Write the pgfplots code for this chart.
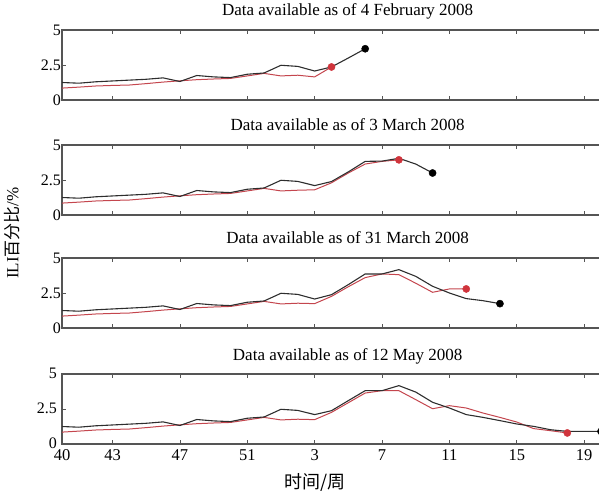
\documentclass[border=0pt]{standalone}
\usepackage{pgfplots}
\pgfplotsset{compat=1.18}
\usepackage{fontspec}
\setmainfont{Liberation Serif}
\newfontfamily\cjk{Noto Sans CJK SC}
\definecolor{blk}{HTML}{2E2E2E}
\definecolor{rd}{HTML}{C4464E}
\definecolor{rdot}{HTML}{D0343C}
\definecolor{framec}{HTML}{555555}

\pgfplotsset{
  panel/.style={
    scale only axis, width=539pt, height=70pt,
    xmin=0, xmax=32, ymin=0, ymax=5,
    xtick={0,3,7,11,15,19,23,27,31},
    ytick={0,2.5,5},
    xticklabels={},
    axis line style={framec, line width=1.3pt},
    tick style={framec, line width=0.8pt},
    major tick length=4pt,
    tick align=inside,
    xtick pos=both, ytick pos=left,
    /pgf/number format/assume math mode=true,
    yticklabel style={font=\fontsize{16}{16}\selectfont, inner sep=0pt, xshift=-1pt},
    xticklabel style={font=\fontsize{16.5}{16.5}\selectfont, inner sep=0pt, yshift=-5pt},
    title style={font=\fontsize{17}{17}\selectfont, at={(0.53,1)}, anchor=base, yshift=8pt, inner sep=0pt},
    anchor=south west,
  },
  bl/.style={blk, line width=1.1pt, mark=none},
  rl/.style={rd, line width=1.0pt, mark=none},
  rdotst/.style={only marks, mark=*, mark size=3.6pt, rdot, mark options={draw=rdot, fill=rdot}},
  bdotst/.style={only marks, mark=*, mark size=3.6pt, black, mark options={draw=black, fill=black}},
}

\begin{document}
\begin{tikzpicture}[x=1pt,y=1pt]
% Panel 1
\begin{axis}[panel, at={(62pt,390pt)}, title={Data available as of 4 February 2008}]
\addplot[rl] coordinates {(0,0.85)(1,0.92)(2,1.0)(3,1.04)(4,1.07)(5,1.17)(6,1.28)(7,1.37)(8,1.45)(9,1.5)(10,1.54)(11,1.72)(12,1.9)(13,1.72)(14,1.77)(15,1.65)(16,2.36)};
\addplot[bl] coordinates {(0,1.25)(1,1.2)(2,1.3)(3,1.36)(4,1.42)(5,1.48)(6,1.58)(7,1.32)(8,1.75)(9,1.65)(10,1.6)(11,1.84)(12,1.93)(13,2.48)(14,2.4)(15,2.07)(16,2.36)(17,3.0)(18,3.66)};
\addplot[rdotst] coordinates {(16,2.36)};
\addplot[bdotst] coordinates {(18,3.66)};
\end{axis}
% Panel 2
\begin{axis}[panel, at={(62pt,275pt)}, title={Data available as of 3 March 2008}]
\addplot[rl] coordinates {(0,0.85)(1,0.92)(2,1.0)(3,1.04)(4,1.07)(5,1.17)(6,1.28)(7,1.37)(8,1.45)(9,1.5)(10,1.54)(11,1.72)(12,1.9)(13,1.72)(14,1.77)(15,1.8)(16,2.3)(17,3.0)(18,3.64)(19,3.83)(20,3.94)};
\addplot[bl] coordinates {(0,1.25)(1,1.2)(2,1.3)(3,1.36)(4,1.42)(5,1.48)(6,1.58)(7,1.32)(8,1.75)(9,1.65)(10,1.6)(11,1.84)(12,1.93)(13,2.48)(14,2.4)(15,2.1)(16,2.39)(17,3.08)(18,3.83)(19,3.85)(20,4.05)(21,3.64)(22,3.0)};
\addplot[rdotst] coordinates {(20,3.94)};
\addplot[bdotst] coordinates {(22,3.0)};
\end{axis}
% Panel 3
\begin{axis}[panel, at={(62pt,162pt)}, title={Data available as of 31 March 2008}]
\addplot[rl] coordinates {(0,0.85)(1,0.92)(2,1.0)(3,1.04)(4,1.07)(5,1.17)(6,1.28)(7,1.37)(8,1.45)(9,1.5)(10,1.54)(11,1.72)(12,1.9)(13,1.72)(14,1.77)(15,1.74)(16,2.26)(17,2.95)(18,3.6)(19,3.86)(20,3.81)(21,3.2)(22,2.55)(23,2.79)(24,2.79)};
\addplot[bl] coordinates {(0,1.25)(1,1.2)(2,1.3)(3,1.36)(4,1.42)(5,1.48)(6,1.58)(7,1.32)(8,1.75)(9,1.65)(10,1.6)(11,1.84)(12,1.93)(13,2.48)(14,2.4)(15,2.07)(16,2.38)(17,3.1)(18,3.86)(19,3.86)(20,4.17)(21,3.69)(22,2.98)(23,2.5)(24,2.1)(25,1.95)(26,1.74)};
\addplot[rdotst] coordinates {(24,2.79)};
\addplot[bdotst] coordinates {(26,1.74)};
\end{axis}
% Panel 4
\begin{axis}[panel, at={(62pt,46pt)}, title={Data available as of 12 May 2008},
  yticklabel style={xshift=-4pt, yshift=1pt},
  xticklabels={40,43,47,51,3,7,11,15,19},
  xlabel={\cjk 时间/周}, xlabel style={font=\fontsize{18}{18}\selectfont, at={(axis description cs:0.469,0)}, anchor=north, yshift=-29pt, inner sep=0pt}]
\addplot[rl] coordinates {(0,0.85)(1,0.92)(2,1.0)(3,1.04)(4,1.07)(5,1.17)(6,1.28)(7,1.37)(8,1.45)(9,1.5)(10,1.54)(11,1.72)(12,1.9)(13,1.72)(14,1.77)(15,1.74)(16,2.26)(17,2.95)(18,3.64)(19,3.81)(20,3.81)(21,3.17)(22,2.52)(23,2.74)(24,2.57)(25,2.21)(26,1.9)(27,1.57)(28,1.1)(29,0.95)(30,0.79)};
\addplot[bl] coordinates {(0,1.25)(1,1.2)(2,1.3)(3,1.36)(4,1.42)(5,1.48)(6,1.58)(7,1.32)(8,1.75)(9,1.65)(10,1.6)(11,1.84)(12,1.93)(13,2.48)(14,2.4)(15,2.1)(16,2.38)(17,3.1)(18,3.81)(19,3.81)(20,4.17)(21,3.71)(22,2.98)(23,2.57)(24,2.1)(25,1.9)(26,1.67)(27,1.43)(28,1.26)(29,1.02)(30,0.9)(31,0.9)(32,0.9)};
\addplot[rdotst] coordinates {(30,0.79)};
\addplot[bdotst] coordinates {(32,0.9)};
\end{axis}
\node[rotate=90, font=\fontsize{17}{17}\selectfont, inner sep=0pt] at (12pt,257pt) {ILI{\cjk 百分比}/\%};
\pgfresetboundingbox
\path (0pt,0pt) rectangle (599pt,490pt);
\end{tikzpicture}
\end{document}
